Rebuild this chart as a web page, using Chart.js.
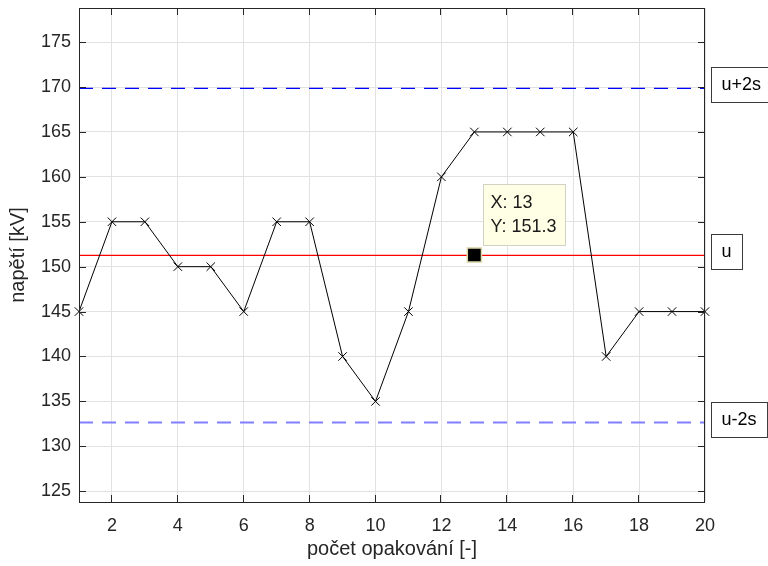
<!DOCTYPE html>
<html>
<head>
<meta charset="utf-8">
<title>napětí</title>
<script src="https://cdn.jsdelivr.net/npm/chart.js@4.4.1/dist/chart.umd.min.js"></script>
<style>
  body { margin: 0; background: #fff; }
  canvas { display: block; }
</style>
</head>
<body>
<canvas id="myChart" width="768" height="566"></canvas>
<script>
// measured breakdown voltage for each repetition
const runs = [1, 2, 3, 4, 5, 6, 7, 8, 9, 10, 11, 12, 13, 14, 15, 16, 17, 18, 19, 20]
const voltage = [145, 155, 155, 150, 150, 145, 155, 155, 140, 135, 145, 160, 165, 165, 165, 165, 140, 145, 145, 145]

// mean and mean +/- 2 sample deviations
const meanU = 151.25
const upperU = 169.85
const lowerU = 132.65

const xTicks = [2, 4, 6, 8, 10, 12, 14, 16, 18, 20]
const yTicks = [125, 130, 135, 140, 145, 150, 155, 160, 165, 170, 175]

// data tip
const tipX = 13
const tipY = 151.3
const tipLines = ['X: 13', 'Y: 151.3']

const sideLabels = [
  {text: 'u+2s', value: upperU},
  {text: 'u', value: meanU},
  {text: 'u-2s', value: lowerU}
]

const axisColor = '#262626'
const fontFamily = '"Liberation Sans", Arial, Helvetica, sans-serif'

function hline(value) {
  return [{x: runs[0], y: value}, {x: runs[runs.length - 1], y: value}]
}

const framePlugin = {
  id: 'frame',
  afterDraw(chart) {
    const ctx = chart.ctx
    const a = chart.chartArea
    const xs = chart.scales.x, ys = chart.scales.y
    const tl = 7
    ctx.save()
    ctx.strokeStyle = axisColor
    ctx.lineWidth = 1
    ctx.beginPath()
    for (let v of xTicks) {
      let px = Math.round(xs.getPixelForValue(v)) - 0.5
      ctx.moveTo(px, a.bottom); ctx.lineTo(px, a.bottom - tl)
      ctx.moveTo(px, a.top); ctx.lineTo(px, a.top + tl)
    }
    for (let v of yTicks) {
      let py = Math.round(ys.getPixelForValue(v)) + 0.5
      ctx.moveTo(a.left, py); ctx.lineTo(a.left + tl, py)
      ctx.moveTo(a.right, py); ctx.lineTo(a.right - tl, py)
    }
    ctx.stroke()
    ctx.strokeRect(a.left + 0.5, a.top + 0.5, a.right - a.left - 1, a.bottom - a.top)

    // text boxes right of the axes
    ctx.font = '18px ' + fontFamily
    ctx.textBaseline = 'middle'
    for (let lab of sideLabels) {
      let py = ys.getPixelForValue(lab.value)
      let w = ctx.measureText(lab.text).width + 21
      let bx = a.right + 6.5, by = Math.round(py) - 20.5
      ctx.fillStyle = '#ffffff'
      ctx.fillRect(bx, by, w, 35)
      ctx.strokeStyle = '#3a3a3a'
      ctx.strokeRect(bx, by, w, 35)
      ctx.fillStyle = '#000000'
      ctx.fillText(lab.text, bx + 10, by + 18)
    }

    // data tip box
    let tx = xs.getPixelForValue(tipX), ty = ys.getPixelForValue(tipY)
    let bx = Math.round(tx) + 9.5, by = Math.round(ty) - 70.5
    ctx.fillStyle = '#ffffe6'
    ctx.fillRect(bx, by, 82, 61)
    ctx.strokeStyle = '#d2d2c4'
    ctx.strokeRect(bx, by, 82, 61)
    ctx.fillStyle = '#1a1a1a'
    ctx.textBaseline = 'middle'
    for (let i = 0; i < tipLines.length; ++i) {
      ctx.fillText(tipLines[i], bx + 7, by + 19 + i * 23.5)
    }
    ctx.restore()
  }
}

const config = {
  type: 'line',
  data: {
    datasets: [
      {
        data: [{x: tipX, y: tipY}],
        showLine: false,
        pointStyle: 'rect',
        pointRadius: 10,
        pointBackgroundColor: '#000000',
        pointBorderColor: '#dad7a9',
        pointBorderWidth: 1.5,
        order: 0,
        clip: false
      },
      {
        data: runs.map((r, i) => ({x: r, y: voltage[i]})),
        borderColor: '#000000',
        borderWidth: 1,
        pointStyle: 'crossRot',
        pointRadius: 6,
        pointBorderColor: '#000000',
        pointBorderWidth: 1,
        order: 1,
        clip: false
      },
      {
        data: hline(meanU),
        borderColor: '#ff0000',
        borderWidth: 1.2,
        pointRadius: 0,
        order: 2
      },
      {
        data: hline(upperU),
        borderColor: '#0000ff',
        borderWidth: 1.2,
        borderDash: [14, 9],
        pointRadius: 0,
        order: 3
      },
      {
        data: hline(lowerU),
        borderColor: '#8080ff',
        borderWidth: 2,
        borderDash: [14, 9],
        pointRadius: 0,
        order: 3
      }
    ]
  },
  options: {
    responsive: false,
    animation: false,
    events: [],
    layout: {autoPadding: false, padding: {left: 0, top: 8, right: 63, bottom: 0}},
    plugins: {legend: {display: false}, tooltip: {enabled: false}},
    scales: {
      x: {
        type: 'linear',
        min: 1,
        max: 20,
        afterBuildTicks: (s) => { s.ticks = xTicks.map(v => ({value: v})) },
        afterFit: (s) => { s.height = 64; s.paddingLeft = 0; s.paddingRight = 0 },
        grid: {color: '#e2e2e2', drawTicks: false},
        border: {display: false},
        ticks: {color: axisColor, font: {family: fontFamily, size: 18}, padding: 13, maxRotation: 0},
        title: {display: true, text: 'počet opakování [-]', color: axisColor,
                font: {family: fontFamily, size: 20}, padding: {top: 0, bottom: 5}}
      },
      y: {
        type: 'linear',
        min: 123.8,
        max: 178.8,
        afterBuildTicks: (s) => { s.ticks = yTicks.map(v => ({value: v})) },
        afterFit: (s) => { s.width = 79; s.paddingTop = 0; s.paddingBottom = 0 },
        grid: {color: '#e2e2e2', drawTicks: false},
        border: {display: false},
        ticks: {color: axisColor, font: {family: fontFamily, size: 18}, padding: 8},
        title: {display: true, text: 'napětí [kV]', color: axisColor,
                font: {family: fontFamily, size: 20}, padding: {top: 6, bottom: 0}}
      }
    }
  },
  plugins: [framePlugin]
}

Window.myChart_ = new Chart(document.getElementById('myChart'), config)
</script>
</body>
</html>
